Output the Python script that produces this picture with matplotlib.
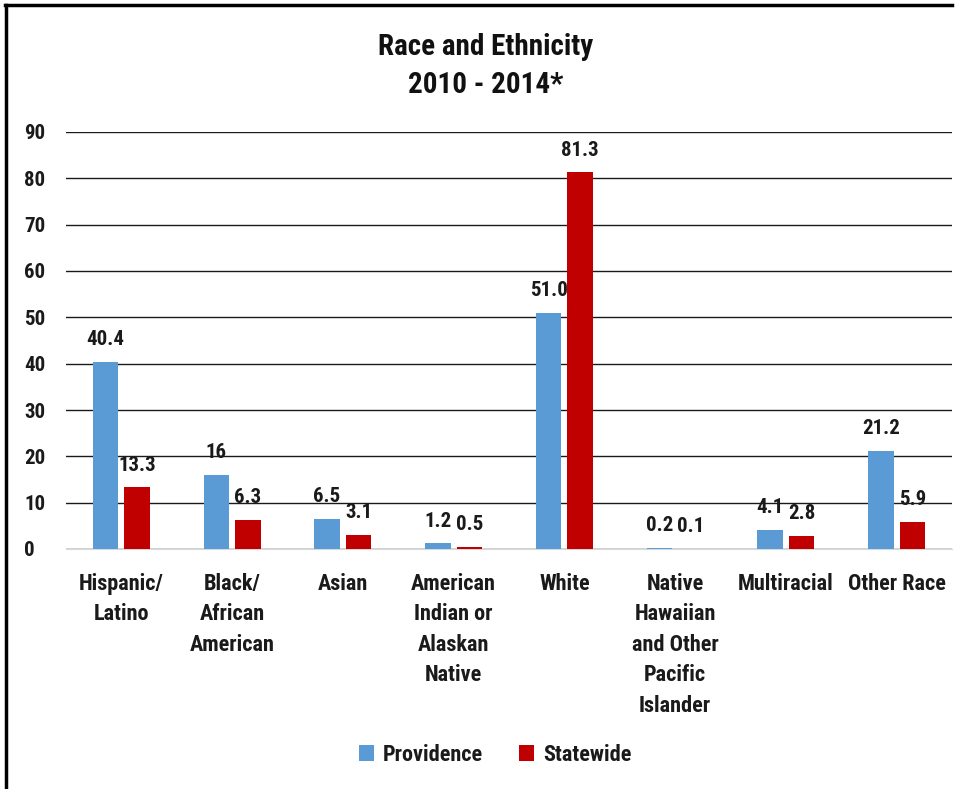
import matplotlib
matplotlib.use("Agg")
import matplotlib.pyplot as plt
import numpy as np
from matplotlib import font_manager

names = {f.name for f in font_manager.fontManager.ttflist}
fam = "DejaVu Sans"
for cand in ["Liberation Sans Narrow", "Roboto Condensed", "Open Sans Condensed", "Lato"]:
    if cand in names:
        fam = cand
        break
plt.rcParams['font.family'] = [fam, 'DejaVu Sans']

categories = ["Hispanic/\nLatino", "Black/\nAfrican\nAmerican", "Asian",
              "American\nIndian or\nAlaskan\nNative", "White",
              "Native\nHawaiian\nand Other\nPacific\nIslander", "Multiracial", "Other Race"]
providence = [40.4, 16, 6.5, 1.2, 51.0, 0.2, 4.1, 21.2]
statewide = [13.3, 6.3, 3.1, 0.5, 81.3, 0.1, 2.8, 5.9]
prov_labels = ["40.4", "16", "6.5", "1.2", "51.0", "0.2", "4.1", "21.2"]
state_labels = ["13.3", "6.3", "3.1", "0.5", "81.3", "0.1", "2.8", "5.9"]
yticks = [0, 10, 20, 30, 40, 50, 60, 70, 80, 90]

blue = "#5B9BD5"
red = "#C00000"
tc = "#1a1a1a"
fs = 16

fig = plt.figure(figsize=(9.71, 7.89), dpi=100)
ax = fig.add_axes([66/971, 1-549/789, (952-66)/971, (549-132)/789])

x = np.arange(len(categories))
w = 0.23
gap = 0.055
ax.bar(x - (w+gap)/2, providence, w, color=blue, label="Providence", zorder=3)
ax.bar(x + (w+gap)/2, statewide, w, color=red, label="Statewide", zorder=3)

for i in range(len(categories)):
    ax.annotate(prov_labels[i], (x[i] - (w+gap)/2, providence[i]), xytext=(0, 12),
                textcoords="offset points", ha="center", va="baseline",
                fontsize=15, fontweight="bold", color=tc, zorder=4)
    ax.annotate(state_labels[i], (x[i] + (w+gap)/2, statewide[i]), xytext=(0, 12),
                textcoords="offset points", ha="center", va="baseline",
                fontsize=15, fontweight="bold", color=tc, zorder=4)

ax.set_xlim(-0.5, len(categories) - 0.5)
ax.set_ylim(0, 90)
ax.set_yticks(yticks)
ax.set_yticklabels([str(t) for t in yticks], fontsize=15, fontweight="bold", color=tc)
ax.set_xticks(x)
ax.set_xticklabels(categories, fontsize=fs, fontweight="bold", color=tc, va="top",
                   linespacing=1.5)
ax.tick_params(axis="both", length=0)
ax.tick_params(axis="y", pad=30)
ax.tick_params(axis="x", pad=17)
for t in ax.get_yticklabels():
    t.set_horizontalalignment("left")
ax.grid(axis="y", color="#1a1a1a", linewidth=1.0, zorder=0)
ax.set_axisbelow(True)
for s in ["top", "right", "left"]:
    ax.spines[s].set_visible(False)
ax.spines["bottom"].set_color("#d9d9d9")
ax.spines["bottom"].set_zorder(1)

fig.text(0.5, 1 - 47/789, "Race and Ethnicity", ha="center", va="center",
         fontsize=21, fontweight="bold", color="#111111")
fig.text(0.5, 1 - 85/789, "2010 - 2014*", ha="center", va="center",
         fontsize=21, fontweight="bold", color="#111111")

leg = fig.legend(loc="center", bbox_to_anchor=(495/971, 1 - 755/789), ncol=2, frameon=False,
                 prop={"size": fs, "weight": "bold"}, handlelength=0.7, handleheight=0.7,
                 handletextpad=0.4, columnspacing=1.6)
for t in leg.get_texts():
    t.set_color(tc)

# border lines (top and left)
fig.add_artist(plt.Line2D([5/971, 952/971], [1 - 5/789, 1 - 5/789], color="black", linewidth=2.5))
fig.add_artist(plt.Line2D([6/971, 6/971], [0, 1 - 5/789], color="black", linewidth=2.5))

fig.savefig("out.png", dpi=100)
